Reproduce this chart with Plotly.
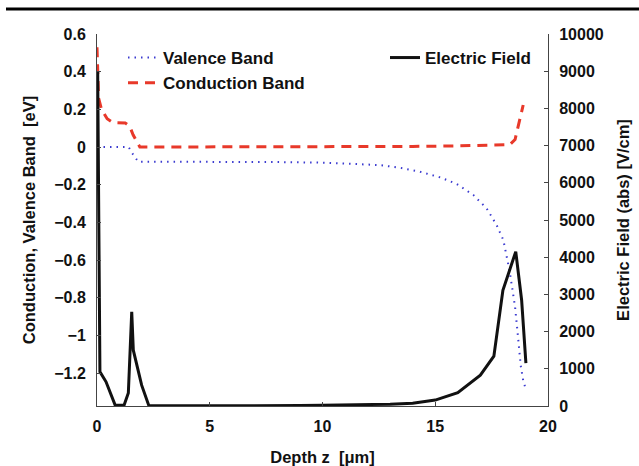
import plotly.graph_objects as go

# ---- data ----
ef_depth = [0.03, 0.13, 0.4, 0.8, 1.2, 1.39, 1.54, 1.61, 1.98, 2.3, 3, 4, 5, 6, 7, 8, 9, 10, 11,
            12, 13, 14, 15, 16, 17, 17.6, 18, 18.57, 18.83, 19.02]
ef_value = [9000, 920, 650, 30, 20, 350, 2530, 1500, 560, 10, 5, 3, 3, 3, 5, 8, 12, 18, 25,
            35, 50, 75, 160, 360, 830, 1340, 3110, 4150, 2850, 1150]

vb_depth = [0, 0.5, 1.0, 1.4, 1.6, 1.83, 2.5, 4, 6, 8, 10, 11, 12, 12.55, 13.44, 14.32, 15.21,
            15.95, 16.69, 17.28, 17.72, 18.02, 18.3, 18.54, 18.68, 18.79, 18.9, 19.0]
vb_value = [0, 0, 0, 0, -0.04, -0.078, -0.078, -0.078, -0.079, -0.08, -0.083, -0.087, -0.092,
            -0.096, -0.11, -0.131, -0.161, -0.196, -0.255, -0.326, -0.414, -0.494, -0.66,
            -0.85, -1.02, -1.16, -1.24, -1.28]

cb_depth = [0, 0.02, 0.07, 0.2, 0.45, 0.7, 1.0, 1.25, 1.45, 1.6, 1.9, 3, 6, 10, 14, 16, 18.0,
            18.3, 18.54, 18.76, 18.9]
cb_value = [0.53, 0.40, 0.26, 0.2, 0.15, 0.13, 0.13, 0.128, 0.11, 0.065, 0.0, 0, 0, 0, 0.003,
            0.006, 0.008, 0.012, 0.04, 0.16, 0.223]

left_ticks = [0.6, 0.4, 0.2, 0, -0.2, -0.4, -0.6, -0.8, -1, -1.2]
right_ticks = list(range(0, 10001, 1000))
right_tick_labels = [str(v) for v in right_ticks]
x_ticks = [0, 5, 10, 15, 20]

FONT = "Liberation Sans, Arial, sans-serif"
tickfont = dict(family=FONT, size=16, color="#111", weight="bold")
titlefont = dict(family=FONT, size=16.5, color="#111", weight="bold")
legendfont = dict(family=FONT, size=17, color="#111", weight="bold")

fig = go.Figure()
fig.add_trace(go.Scatter(x=vb_depth, y=vb_value, mode="lines", name="Valence Band",
                         line=dict(color="#3b3bd0", width=2, dash="1.5px,5px"),
                         yaxis="y", legend="legend"))
fig.add_trace(go.Scatter(x=cb_depth, y=cb_value, mode="lines", name="Conduction Band",
                         line=dict(color="#e8392a", width=3, dash="10px,7px"),
                         yaxis="y", legend="legend"))
fig.add_trace(go.Scatter(x=ef_depth, y=ef_value, mode="lines", name="Electric Field",
                         line=dict(color="#111111", width=3),
                         yaxis="y2", legend="legend2"))

L, R, T, B = 97, 91, 34, 60
W, H = 639, 466
pw = W - L - R
ph = H - T - B

fig.update_layout(
    width=W, height=H,
    margin=dict(l=L, r=R, t=T, b=B, autoexpand=False),
    paper_bgcolor="white", plot_bgcolor="white",
    xaxis=dict(range=[0, 20], tickvals=x_ticks, ticks="inside", ticklen=4,
               showline=True, linecolor="#444", linewidth=1, showgrid=False, zeroline=False,
               tickfont=tickfont, ticklabelstandoff=6,
               title=dict(text="Depth z  [μm]", font=titlefont, standoff=17)),
    yaxis=dict(range=[-1.375, 0.6], tickvals=left_ticks, ticks="inside", ticklen=4,
               showline=True, linecolor="#444", linewidth=1, showgrid=False, zeroline=False,
               tickfont=tickfont, ticklabelstandoff=7,
               title=dict(text="Conduction, Valence Band  [eV]", font=titlefont, standoff=14)),
    yaxis2=dict(range=[0, 10000], tickvals=right_ticks, ticktext=right_tick_labels,
                ticks="inside", ticklen=4, overlaying="y", side="right",
                showline=True, linecolor="#444", linewidth=1, showgrid=False, zeroline=False,
                tickfont=tickfont, ticklabelstandoff=7,
                title=dict(text="Electric Field (abs) [V/cm]", font=titlefont, standoff=14)),
    legend=dict(x=(123 - L) / pw, y=(H - B - 40) / ph, xanchor="left", yanchor="top",
                bgcolor="rgba(0,0,0,0)", font=legendfont, tracegroupgap=0),
    legend2=dict(x=(385 - L) / pw, y=(H - B - 40) / ph, xanchor="left", yanchor="top",
                 bgcolor="rgba(0,0,0,0)", font=legendfont),
    shapes=[dict(type="line", xref="paper", yref="paper",
                 x0=(6 - L) / pw, x1=(639 - L) / pw,
                 y0=(H - B - 9) / ph, y1=(H - B - 9) / ph,
                 line=dict(color="black", width=3))],
    showlegend=True,
)

fig.write_html("out.html")
